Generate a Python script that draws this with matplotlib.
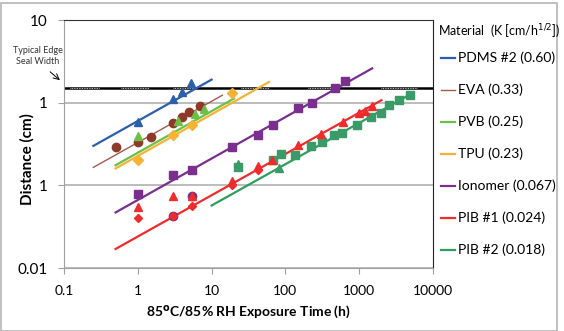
import matplotlib.pyplot as plt
from matplotlib.patches import Rectangle

plt.rcParams['font.family'] = ['Lato', 'DejaVu Sans']

materials = ['PDMS #2 (0.60)', 'EVA (0.33)', 'PVB (0.25)', 'TPU (0.23)',
             'Ionomer (0.067)', 'PIB #1 (0.024)', 'PIB #2 (0.018)']
colors = ['#2b5fae', '#a35a4c', '#6dbf45', '#f5b335', '#7a2e8e', '#ef2b2b', '#2f9e5c']

# fit lines (time range in h, distance in cm)
fit_t = [[0.25, 10], [0.25, 14], [0.5, 20], [0.5, 60], [0.5, 1500], [0.5, 2000], [10, 5000]]
fit_d = [[0.30, 1.9], [0.165, 1.23], [0.175, 1.12], [0.16, 1.78], [0.047, 2.6], [0.017, 1.07], [0.057, 1.27]]

# measured points
pdms_t = [1, 3, 4, 5.2]
pdms_d = [0.58, 1.1, 1.35, 1.75]
eva_t = [0.5, 1, 1.5, 3, 4, 5, 7]
eva_d = [0.29, 0.335, 0.38, 0.57, 0.68, 0.78, 0.9]
pvb_t = [1, 3.5, 6, 8]
pvb_d = [0.4, 0.6, 0.72, 0.85]
tpu_t = [1, 3, 5.4, 19]
tpu_d = [0.2, 0.41, 0.53, 1.32]
iono_t = [1, 3, 5.5, 19, 42, 67, 150, 230, 470, 650]
iono_d = [0.079, 0.134, 0.155, 0.29, 0.41, 0.54, 0.87, 1.0, 1.52, 1.85]
iono_c_t = [3, 5.5]
iono_c_d = [0.042, 0.075]
pib1_tri_t = [1, 3, 5.5, 19, 42, 65, 150, 300, 600, 1000, 1200, 1500]
pib1_tri_d = [0.054, 0.075, 0.075, 0.114, 0.17, 0.2, 0.31, 0.42, 0.58, 0.74, 0.8, 0.9]
pib1_dia_t = [1, 3, 5.5, 19, 42]
pib1_dia_d = [0.04, 0.042, 0.057, 0.1, 0.155]
pib2_t = [23, 67, 88, 133, 225, 315, 460, 590, 940, 1450, 2000, 2500, 3500, 4900]
pib2_d = [0.168, 0.2, 0.24, 0.23, 0.3, 0.33, 0.41, 0.43, 0.54, 0.68, 0.76, 0.95, 1.09, 1.25]
pib2_tri_t = [23, 83]
pib2_tri_d = [0.18, 0.16]

seal_width = 1.5

fig = plt.figure(figsize=(5.64, 3.31), dpi=100)
ax = fig.add_axes([64/564, 1-268/331, 369/564, 248/331])
ax.set_xscale('log')
ax.set_yscale('log')
ax.set_xlim(0.1, 10000)
ax.set_ylim(0.01, 10)

for i in range(7):
    lw = 1.0 if i == 1 else 1.6
    ax.plot(fit_t[i], fit_d[i], color=colors[i], lw=lw, label=materials[i], zorder=2)

ax.axhline(seal_width, color='black', lw=1.8, zorder=1)
for a, b in [(0.12, 0.3), (0.6, 1.4), (3, 6), (25, 60), (200, 500), (2000, 6000)]:
    ax.plot([a, b], [seal_width, seal_width], color='white', lw=0.6, ls=(0, (1, 1)), zorder=1)

ms = 6
ax.plot(pdms_t, pdms_d, '^', color=colors[0], ms=ms, ls='none', zorder=3)
ax.plot(eva_t, eva_d, 'o', color='#8e3a2b', ms=ms, ls='none', zorder=3)
ax.plot(pvb_t, pvb_d, '^', color=colors[2], ms=ms, ls='none', zorder=3)
ax.plot(tpu_t, tpu_d, 'D', color=colors[3], ms=5, ls='none', zorder=3)
ax.plot(iono_t, iono_d, 's', color=colors[4], ms=ms, ls='none', zorder=3)
ax.plot(iono_c_t, iono_c_d, 'o', color=colors[4], ms=ms, ls='none', zorder=3)
ax.plot(pib1_tri_t, pib1_tri_d, '^', color=colors[5], ms=ms, ls='none', zorder=4)
ax.plot(pib1_dia_t, pib1_dia_d, 'D', color=colors[5], ms=4.5, ls='none', zorder=4)
ax.plot(pib2_t, pib2_d, 's', color='#3a9a68', ms=ms, ls='none', zorder=3)
ax.plot(pib2_tri_t, pib2_tri_d, '^', color='#3a9a68', ms=ms, ls='none', zorder=3)

ax.grid(axis='y', which='major', color='#b0b0b0', lw=1.2)
ax.set_axisbelow(True)
ax.minorticks_off()
ax.set_xticks([0.1, 1, 10, 100, 1000, 10000])
ax.set_xticklabels(['0.1', '1', '10', '100', '1000', '10000'], fontsize=10)
ax.set_yticks([0.01, 0.1, 1, 10])
ax.set_yticklabels(['0.01', '1', '1', '10'], fontsize=11)
ax.tick_params(axis='both', color='#a0a0a0', length=4, pad=8)
ax.spines['left'].set_color('#a0a0a0')
ax.spines['bottom'].set_color('#a0a0a0')
ax.spines['top'].set_color('#333333')
ax.spines['right'].set_color('#222222')

ax.set_xlabel('85$^{\\mathbf{o}}$C/85% RH Exposure Time (h)', fontsize=10, fontweight='bold', labelpad=5)
ax.set_ylabel('Distance (cm)', fontsize=11, fontweight='bold')
ax.yaxis.set_label_coords(-0.079, 0.44)

fig.text(38/564, 1-56/331, 'Typical Edge\nSeal Width', fontsize=6.5, ha='center', va='center',
         color='#333333', linespacing=1.3)
ax.annotate('', xy=(62/564, 1-82/331), xycoords='figure fraction',
            xytext=(48/564, 1-70/331), textcoords='figure fraction',
            arrowprops=dict(arrowstyle='->', color='black', lw=0.7))

fig.text(438/564, 1-32/331, 'Material  (K [cm/h$^{1/2}$])', fontsize=9, ha='left', va='center')
ax.legend(loc='upper left', bbox_to_anchor=(1.0, 0.905), frameon=False,
          fontsize=10, handlelength=1.0, handletextpad=0.2, labelspacing=1.4,
          borderaxespad=0.2)

fig.patches.append(Rectangle((0.002, 0.0), 556/564, 1-3/331, transform=fig.transFigure,
                             fill=False, edgecolor='#b5b5b5', lw=1.2))

fig.savefig('out.png', dpi=100)
